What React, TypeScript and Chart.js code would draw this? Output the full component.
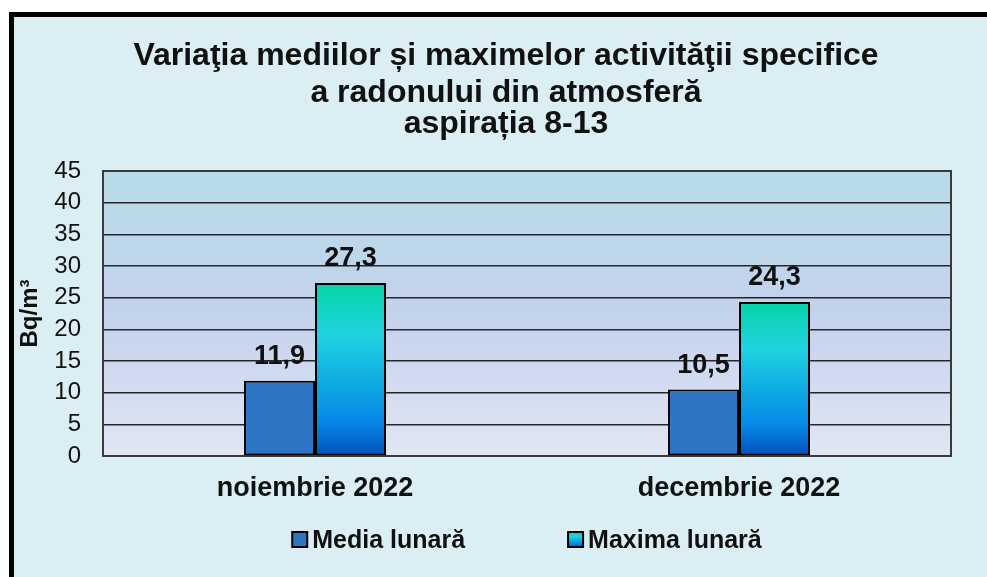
import React, { useEffect, useRef } from 'react';
import { Chart, registerables } from 'chart.js';

Chart.register(...registerables);

const titleLines = [
  'Variaţia mediilor și maximelor activităţii specifice',
  'a radonului din atmosferă',
  'aspirația 8-13',
];
const categories = ['noiembrie 2022', 'decembrie 2022'];
const seriesNames = ['Media lunară', 'Maxima lunară'];
const mediaValues = [11.9, 10.5];
const maximaValues = [27.3, 24.3];
const yAxisTitle = 'Bq/m³';
const yMin = 0;
const yMax = 45;
const yStep = 5;

const FONT = "'Liberation Sans', Arial, sans-serif";
const W = 987;
const H = 577;

function maximaGradient(ctx: CanvasRenderingContext2D, top: number, bottom: number) {
  const g = ctx.createLinearGradient(0, top, 0, bottom);
  g.addColorStop(0, '#06d4a6');
  g.addColorStop(0.3, '#20d3e0');
  g.addColorStop(0.55, '#10aee2');
  g.addColorStop(0.8, '#0688e8');
  g.addColorStop(1, '#0450b8');
  return g;
}

const framePlugin = {
  id: 'framePlugin',
  beforeDraw(chart: any) {
    const { ctx, chartArea } = chart;
    ctx.save();
    ctx.fillStyle = '#ffffff';
    ctx.fillRect(0, 0, W, H);
    ctx.fillStyle = '#daeef3';
    ctx.fillRect(9, 12, W - 9, H - 12);
    ctx.fillStyle = '#000000';
    ctx.fillRect(9, 12, W - 9, 5);
    ctx.fillRect(9, 12, 5, H - 12);
    const g = ctx.createLinearGradient(0, chartArea.top, 0, chartArea.bottom);
    g.addColorStop(0, '#b7dce8');
    g.addColorStop(0.5, '#c4d2ec');
    g.addColorStop(1, '#e1e6f4');
    ctx.fillStyle = g;
    ctx.fillRect(chartArea.left, chartArea.top, chartArea.right - chartArea.left, chartArea.bottom - chartArea.top);
    ctx.fillStyle = '#111111';
    ctx.font = `bold 32px ${FONT}`;
    ctx.textAlign = 'center';
    ctx.textBaseline = 'alphabetic';
    const baselines = [65, 102, 133];
    titleLines.forEach((t, i) => ctx.fillText(t, 506, baselines[i]));
    ctx.restore();
  },
  beforeDatasetsDraw(chart: any) {
    const { ctx, chartArea } = chart;
    ctx.save();
    ctx.strokeStyle = '#3a3a3a';
    ctx.lineWidth = 2;
    ctx.strokeRect(chartArea.left, chartArea.top, chartArea.right - chartArea.left, chartArea.bottom - chartArea.top);
    ctx.restore();
  },
  afterDatasetsDraw(chart: any) {
    const { ctx, chartArea } = chart;
    ctx.save();
    ctx.fillStyle = '#111111';
    ctx.font = `bold 27px ${FONT}`;
    ctx.textAlign = 'center';
    ctx.textBaseline = 'alphabetic';
    chart.data.datasets.forEach((ds: any, di: number) => {
      const meta = chart.getDatasetMeta(di);
      meta.data.forEach((bar: any, i: number) => {
        const v = ds.data[i];
        const txt = v.toFixed(1).replace('.', ',');
        ctx.fillText(txt, bar.x, bar.y - 17);
      });
    });

    ctx.font = `bold 25px ${FONT}`;
    ctx.textAlign = 'left';
    const box = 15;
    const gapBox = 5;
    const gapItems = 103;
    const widths = seriesNames.map((n) => box + gapBox + ctx.measureText(n).width);
    const total = widths.reduce((a, b) => a + b, 0) + gapItems * (seriesNames.length - 1);
    let x = (chartArea.left + chartArea.right) / 2 - total / 2;
    const baseY = 548;
    const boxTop = 532;
    seriesNames.forEach((n, i) => {
      if (i === 0) {
        ctx.fillStyle = '#2e75c5';
      } else {
        ctx.fillStyle = maximaGradient(ctx, boxTop, boxTop + box);
      }
      ctx.fillRect(x, boxTop, box, box);
      ctx.strokeStyle = '#000000';
      ctx.lineWidth = 2;
      ctx.strokeRect(x, boxTop, box, box);
      ctx.fillStyle = '#111111';
      ctx.fillText(n, x + box + gapBox, baseY);
      x += widths[i] + gapItems;
    });
    ctx.restore();
  },
};

export default function App() {
  const canvasRef = useRef<HTMLCanvasElement | null>(null);

  useEffect(() => {
    const canvas = canvasRef.current;
    if (!canvas) return;
    const chart = new Chart(canvas, {
      type: 'bar',
      data: {
        labels: categories,
        datasets: [
          {
            label: seriesNames[0],
            data: mediaValues,
            backgroundColor: '#2e75c5',
            borderColor: '#000000',
            borderWidth: 2,
            borderSkipped: false,
            barPercentage: 1,
            categoryPercentage: 0.335,
          },
          {
            label: seriesNames[1],
            data: maximaValues,
            backgroundColor: (c: any) => {
              const chartObj = c.chart;
              const ys = chartObj.scales && chartObj.scales.y;
              if (!ys || !chartObj.chartArea || c.raw == null) return '#20d3e0';
              const top = ys.getPixelForValue(c.raw);
              const bottom = ys.getPixelForValue(0);
              return maximaGradient(chartObj.ctx, top, bottom);
            },
            borderColor: '#000000',
            borderWidth: 2,
            borderSkipped: false,
            barPercentage: 1,
            categoryPercentage: 0.335,
          },
        ],
      },
      options: {
        responsive: false,
        devicePixelRatio: 1,
        animation: false,
        layout: { padding: { left: 14, right: 36, top: 171, bottom: 74 } },
        plugins: {
          legend: { display: false },
          title: { display: false },
          tooltip: { enabled: false },
        },
        scales: {
          x: {
            grid: { display: false, drawTicks: false },
            border: { display: false },
            ticks: {
              color: '#111111',
              font: { family: FONT, size: 27, weight: 'bold' },
              padding: 16,
            },
            afterFit: (s: any) => {
              s.height = 47;
            },
          },
          y: {
            min: yMin,
            max: yMax,
            grid: { color: '#262626', lineWidth: 1.5, drawTicks: false },
            border: { display: false },
            ticks: {
              stepSize: yStep,
              autoSkip: false,
              color: '#111111',
              font: { family: FONT, size: 24, lineHeight: 1 },
              padding: 22,
            },
            title: {
              display: true,
              text: yAxisTitle,
              color: '#111111',
              font: { family: FONT, size: 24, weight: 'bold' },
              padding: { top: 2, bottom: 0 },
            },
            afterFit: (s: any) => {
              s.width = 89;
            },
          },
        },
      },
      plugins: [framePlugin],
    });
    return () => chart.destroy();
  }, []);

  return (
    <div style={{ position: 'fixed', left: 0, top: 0, width: W, height: H, background: '#ffffff' }}>
      <canvas ref={canvasRef} width={W} height={H} style={{ display: 'block', width: W, height: H }} />
    </div>
  );
}
